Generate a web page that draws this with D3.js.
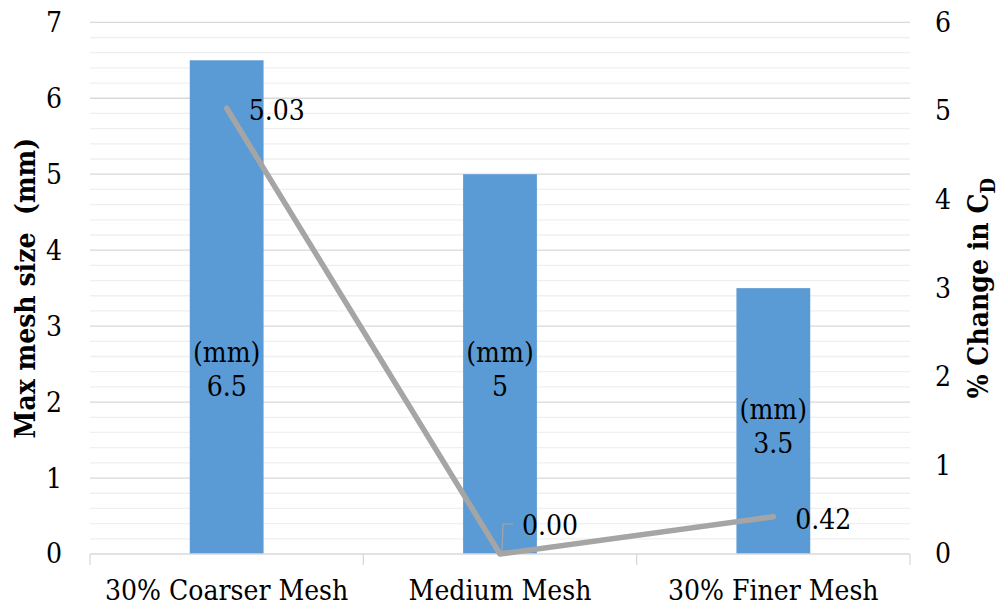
<!DOCTYPE html>
<html>
<head>
<meta charset="utf-8">
<script src="https://cdn.jsdelivr.net/npm/d3@7"></script>
<style>
  html, body { margin: 0; padding: 0; background: #fff; }
  svg { display: block; }
  svg text { font-stretch: condensed; }
</style>
</head>
<body>
<svg id="chart" width="1001" height="608"></svg>
<script>
// Mesh study: bar = max mesh size (left axis), line = % change in drag coefficient (right axis)
const categories = ["30% Coarser Mesh", "Medium Mesh", "30% Finer Mesh"];
const meshSize = [6.5, 5, 3.5];          // mm
const changeCd = [5.03, 0.00, 0.42];     // %
const leftTicks = [0, 1, 2, 3, 4, 5, 6, 7];
const rightTicks = [0, 1, 2, 3, 4, 5, 6];

const W = 1001, H = 608;
const m = { left: 90, right: 91, top: 22.3, bottom: 54 };
const svg = d3.select("#chart");
const FS = 28;
const SERIF = "'DejaVu Serif Condensed', 'DejaVu Serif', 'Noto Serif', serif";

const x = d3.scaleBand().domain(categories).range([m.left, W - m.right]).paddingInner(0).paddingOuter(0);
const yL = d3.scaleLinear().domain([0, 7]).range([H - m.bottom, m.top]);
const yR = d3.scaleLinear().domain([0, 6]).range([H - m.bottom, m.top]);

// minor gridlines every 0.2 mm
const minor = d3.range(0, 7.0001, 0.2).filter(v => Math.abs(v - Math.round(v)) > 1e-6);
svg.append("g").selectAll("line").data(minor).join("line")
  .attr("x1", m.left).attr("x2", W - m.right)
  .attr("y1", d => yL(d)).attr("y2", d => yL(d))
  .attr("stroke", "#efefef").attr("stroke-width", 1.3);

// major gridlines
svg.append("g").selectAll("line").data(leftTicks.filter(d => d > 0)).join("line")
  .attr("x1", m.left).attr("x2", W - m.right)
  .attr("y1", d => yL(d)).attr("y2", d => yL(d))
  .attr("stroke", "#d9d9d9").attr("stroke-width", 1.3);

// bars
const bw = x.bandwidth() * 0.27;
svg.append("g").selectAll("rect").data(meshSize).join("rect")
  .attr("x", (d, i) => x(categories[i]) + x.bandwidth() / 2 - bw / 2)
  .attr("width", bw)
  .attr("y", d => yL(d))
  .attr("height", d => yL(0) - yL(d))
  .attr("fill", "#5b9bd5");

// category axis (baseline + separators)
const xAxis = d3.axisBottom(x).tickSize(0).tickPadding(26);
const gx = svg.append("g").attr("transform", `translate(0,${yL(0)})`).call(xAxis)
  .attr("font-family", SERIF).attr("font-size", FS);
gx.select(".domain").remove();
svg.append("line").attr("x1", m.left).attr("x2", W - m.right)
  .attr("y1", yL(0)).attr("y2", yL(0)).attr("stroke", "#d9d9d9").attr("stroke-width", 1.3);
const seps = categories.map(c => x(c)).concat([x(categories[categories.length - 1]) + x.bandwidth()]);
svg.append("g").selectAll("line").data(seps).join("line")
  .attr("x1", d => d).attr("x2", d => d)
  .attr("y1", yL(0)).attr("y2", yL(0) + 11)
  .attr("stroke", "#d9d9d9").attr("stroke-width", 1.3);

// left axis labels
const gl = svg.append("g").attr("transform", `translate(${m.left},0)`)
  .call(d3.axisLeft(yL).tickValues(leftTicks).tickSize(0).tickPadding(28).tickFormat(d3.format("d")))
  .attr("font-family", SERIF).attr("font-size", FS);
gl.select(".domain").remove();

// right axis labels
const gr = svg.append("g").attr("transform", `translate(${W - m.right},0)`)
  .call(d3.axisRight(yR).tickValues(rightTicks).tickSize(0).tickPadding(25).tickFormat(d3.format("d")))
  .attr("font-family", SERIF).attr("font-size", FS);
gr.select(".domain").remove();

// bar value labels, kept clear of the line
const barLabels = svg.append("g").attr("font-family", SERIF).attr("font-size", FS);
meshSize.forEach((v, i) => {
  const cx = x(categories[i]) + x.bandwidth() / 2;
  const cy = yL(Math.min(v / 2, 2.5)) + 4;
  const t = barLabels.append("text").attr("text-anchor", "middle");
  t.append("tspan").attr("x", cx).attr("y", cy - 6).text("(mm)");
  t.append("tspan").attr("x", cx).attr("y", cy + 28).text(d3.format("")(v));
});

// % change line
const line = d3.line()
  .x((d, i) => x(categories[i]) + x.bandwidth() / 2)
  .y(d => yR(d));
svg.append("path").datum(changeCd).attr("d", line)
  .attr("fill", "none").attr("stroke", "#a5a5a5").attr("stroke-width", 5.5)
  .attr("stroke-linecap", "round").attr("stroke-linejoin", "round");

// line value labels
const lineLabels = svg.append("g").attr("font-family", SERIF).attr("font-size", FS);
changeCd.forEach((v, i) => {
  const px = x(categories[i]) + x.bandwidth() / 2;
  const py = yR(v);
  if (v === 0) {
    const ly = py - 30;
    lineLabels.append("path")
      .attr("d", `M${px + 2},${py - 3}L${px + 3},${ly}L${px + 13},${ly}`)
      .attr("fill", "none").attr("stroke", "#a5a5a5").attr("stroke-width", 1.2);
    lineLabels.append("text").attr("x", px + 22).attr("y", ly + 11).text(d3.format(".2f")(v));
  } else {
    lineLabels.append("text").attr("x", px + 22).attr("y", py + 12).text(d3.format(".2f")(v));
  }
});

// axis titles
const midY = (yL(0) + yL(7)) / 2;
svg.append("text")
  .attr("transform", `translate(35,${midY}) rotate(-90)`)
  .attr("text-anchor", "middle").attr("font-family", SERIF).attr("font-size", FS).attr("font-weight", "bold")
  .attr("xml:space", "preserve").style("white-space", "pre")
  .text("Max mesh size  (mm)");

const rt = svg.append("text")
  .attr("transform", `translate(988,${midY}) rotate(-90)`)
  .attr("text-anchor", "middle").attr("font-family", SERIF).attr("font-size", FS).attr("font-weight", "bold");
rt.append("tspan").text("% Change in C");
rt.append("tspan").attr("dy", 7).attr("font-size", 20).text("D");
</script>
</body>
</html>
